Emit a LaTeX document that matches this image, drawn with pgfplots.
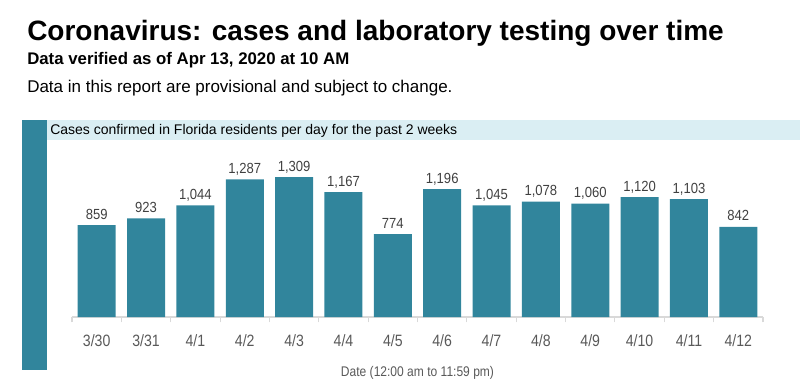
\documentclass[border=0pt]{standalone}
\usepackage{fontspec}
\setmainfont{Liberation Sans}
\newfontfamily\condB[FakeStretch=0.89]{Liberation Sans}
\newfontfamily\condC[FakeStretch=0.86]{Liberation Sans}
\usepackage{pgfplots}
\pgfplotsset{compat=1.18}
\definecolor{barteal}{HTML}{31859C}
\definecolor{bandblue}{HTML}{DAEEF3}
\definecolor{ticklab}{HTML}{595959}
\definecolor{vallab}{HTML}{404040}
\definecolor{axgray}{HTML}{D9D9D9}
\begin{document}
\begin{tikzpicture}
\path[use as bounding box] (0,0) rectangle (600pt,-290.25pt);
\begin{scope}[x=0.75pt,y=-0.75pt]
\fill[bandblue] (22,120) rectangle (800,140);
\fill[barteal] (22,120) rectangle (47,370);
\node[anchor=base west,inner sep=0pt] at (27,40) {\bfseries\fontsize{21pt}{21pt}\selectfont Coronavirus: cases and laboratory testing over time};
\node[anchor=base west,inner sep=0pt] at (27,64.5) {\bfseries\fontsize{12.6pt}{12.6pt}\selectfont Data verified as of Apr 13, 2020 at 10 AM};
\node[anchor=base west,inner sep=0pt] at (27,92) {\fontsize{12.75pt}{12.75pt}\selectfont Data in this report are provisional and subject to change.};
\node[anchor=base west,inner sep=0pt] at (50,134.5) {\fontsize{10.5pt}{10.5pt}\selectfont Cases confirmed in Florida residents per day for the past 2 weeks};
\end{scope}
\begin{axis}[
  at={(54pt,-237.75pt)}, anchor=south west,
  scale only axis, width=518.25pt, height=120.3pt,
  xmin=-0.5, xmax=13.5, ymin=0, ymax=1500,
  axis x line*=bottom, axis y line=none,
  axis line style={axgray, line width=0.8pt},
  xtick={0,...,13},
  xticklabels={3/30,3/31,4/1,4/2,4/3,4/4,4/5,4/6,4/7,4/8,4/9,4/10,4/11,4/12},
  major x tick style={draw=none},
  minor xtick={-0.5,0.5,...,13.5},
  minor x tick style={axgray, line width=0.8pt},
  minor tick length=4pt, tick align=outside,
  xticklabel style={font=\condC\fontsize{12.3pt}{12.3pt}\selectfont, text=ticklab, anchor=base, yshift=-18pt, inner sep=0pt},
  xlabel={Date (12:00 am to 11:59 pm)},
  xlabel style={at={(axis description cs:0.5,0)}, anchor=base, yshift=-44.5pt, font=\condC\fontsize{10.5pt}{10.5pt}\selectfont, text=ticklab, inner sep=0pt},
  ybar, bar width=28.5pt,
  nodes near coords,
  /pgf/number format/assume math mode=true,
  nodes near coords style={font=\condB\fontsize{11pt}{11pt}\selectfont, text=vallab, anchor=base, yshift=4.5pt, inner sep=0pt, /pgf/number format/1000 sep={,}, /pgf/number format/assume math mode=true},
  clip=false,
]
\addplot[fill=barteal, draw=none] coordinates {
(0,859) (1,923) (2,1044) (3,1287) (4,1309) (5,1167) (6,774)
(7,1196) (8,1045) (9,1078) (10,1060) (11,1120) (12,1103) (13,842)};
\end{axis}
\end{tikzpicture}
\end{document}
